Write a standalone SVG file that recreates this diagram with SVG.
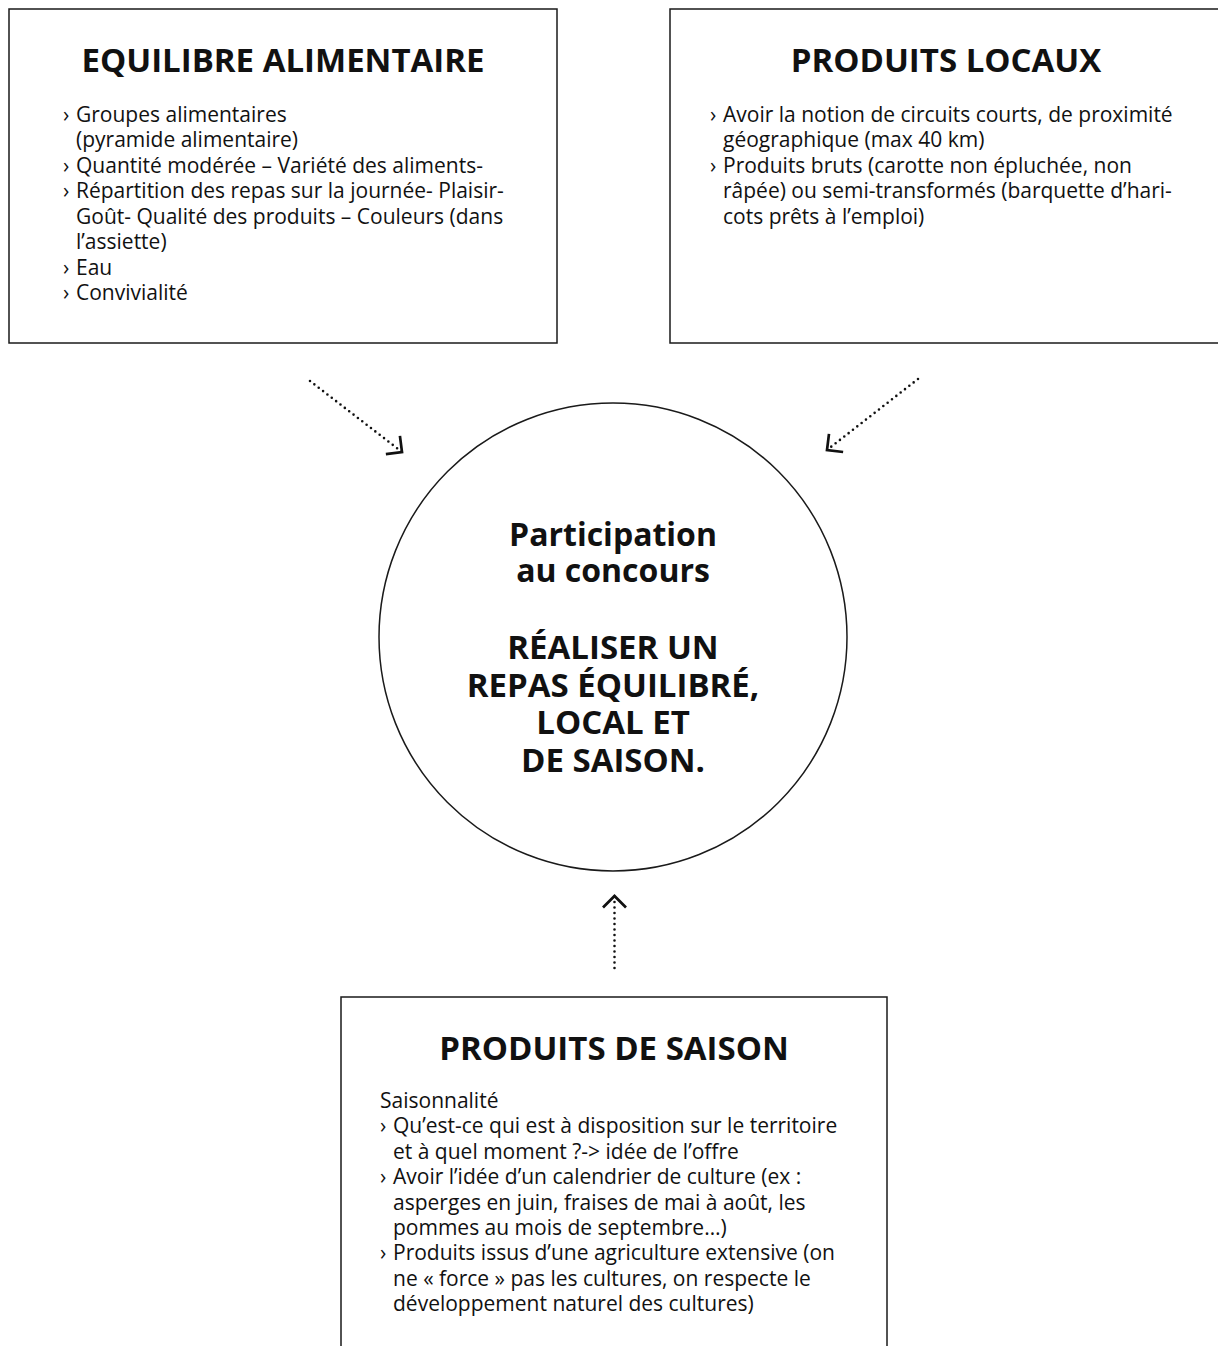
<svg xmlns="http://www.w3.org/2000/svg" width="1218" height="1346" viewBox="0 0 1218 1346">
<style>
  .box { fill: #fff; stroke: #1a1a1a; stroke-width: 1.5; }
  .ttl { font-family: "Open Sans", "Liberation Sans", sans-serif; font-weight: 700; font-size: 33px; fill: #111; text-anchor: middle; }
  .bd { font-family: "Open Sans", "Liberation Sans", sans-serif; font-size: 21px; fill: #111; }
  .ctr { font-family: "Open Sans", "Liberation Sans", sans-serif; font-weight: 700; font-size: 32px; fill: #111; text-anchor: middle; }
  .cap { font-size: 33px; }
  .conn { fill: none; stroke: #111; stroke-width: 2.6; stroke-linecap: round; stroke-dasharray: 0 5.5; }
</style>
<defs>
  <marker id="ah" markerUnits="userSpaceOnUse" markerWidth="34" markerHeight="34" viewBox="-17 -17 34 34" refX="0" refY="0" orient="auto" overflow="visible">
    <path d="M -11.5 -11.5 L 0 0 L -11.5 11.5" fill="none" stroke="#111" stroke-width="2.7" stroke-dasharray="none" stroke-linejoin="miter"/>
  </marker>
</defs>

<g id="connectors">
  <line class="conn" x1="310" y1="381" x2="402" y2="452" marker-end="url(#ah)"/>
  <line class="conn" x1="918" y1="379" x2="827" y2="450" marker-end="url(#ah)"/>
  <line class="conn" x1="614.5" y1="968" x2="614.5" y2="896" marker-end="url(#ah)"/>
</g>

<g id="equilibre">
  <rect class="box" x="9" y="9" width="548" height="334"/>
  <text class="ttl" x="283" y="72">EQUILIBRE ALIMENTAIRE</text>
  <text class="bd" y="121.5"><tspan x="63">›</tspan><tspan x="76">Groupes alimentaires</tspan></text>
  <text class="bd" x="76" y="147">(pyramide alimentaire)</text>
  <text class="bd" y="172.5"><tspan x="63">›</tspan><tspan x="76">Quantité modérée – Variété des aliments-</tspan></text>
  <text class="bd" y="198"><tspan x="63">›</tspan><tspan x="76">Répartition des repas sur la journée- Plaisir-</tspan></text>
  <text class="bd" x="76" y="223.5">Goût- Qualité des produits – Couleurs (dans</text>
  <text class="bd" x="76" y="249">l’assiette)</text>
  <text class="bd" y="274.5"><tspan x="63">›</tspan><tspan x="76">Eau</tspan></text>
  <text class="bd" y="300"><tspan x="63">›</tspan><tspan x="76">Convivialité</tspan></text>
</g>

<g id="locaux">
  <rect class="box" x="670" y="9" width="560" height="334"/>
  <text class="ttl" x="946" y="72">PRODUITS LOCAUX</text>
  <text class="bd" y="121.5"><tspan x="710">›</tspan><tspan x="723">Avoir la notion de circuits courts, de proximité</tspan></text>
  <text class="bd" x="723" y="147">géographique (max 40 km)</text>
  <text class="bd" y="172.5"><tspan x="710">›</tspan><tspan x="723">Produits bruts (carotte non épluchée, non</tspan></text>
  <text class="bd" x="723" y="198">râpée) ou semi-transformés (barquette d’hari-</text>
  <text class="bd" x="723" y="223.5">cots prêts à l’emploi)</text>
</g>

<g id="centre">
  <circle class="box" cx="613" cy="637" r="234"/>
  <text class="ctr" x="613" y="546">Participation</text>
  <text class="ctr" x="613" y="582">au concours</text>
  <text class="ctr cap" x="613" y="659">RÉALISER UN</text>
  <text class="ctr cap" x="613" y="697">REPAS ÉQUILIBRÉ,</text>
  <text class="ctr cap" x="613" y="734">LOCAL ET</text>
  <text class="ctr cap" x="613" y="772">DE SAISON.</text>
</g>

<g id="saison">
  <rect class="box" x="341" y="997" width="546" height="370"/>
  <text class="ttl" x="614" y="1060">PRODUITS DE SAISON</text>
  <text class="bd" x="380" y="1108">Saisonnalité</text>
  <text class="bd" y="1133.4"><tspan x="380">›</tspan><tspan x="393">Qu’est-ce qui est à disposition sur le territoire</tspan></text>
  <text class="bd" x="393" y="1158.8">et à quel moment ?-&gt; idée de l’offre</text>
  <text class="bd" y="1184.2"><tspan x="380">›</tspan><tspan x="393">Avoir l’idée d’un calendrier de culture (ex :</tspan></text>
  <text class="bd" x="393" y="1209.6">asperges en juin, fraises de mai à août, les</text>
  <text class="bd" x="393" y="1235">pommes au mois de septembre…)</text>
  <text class="bd" y="1260.4"><tspan x="380">›</tspan><tspan x="393">Produits issus d’une agriculture extensive (on</tspan></text>
  <text class="bd" x="393" y="1285.8">ne « force » pas les cultures, on respecte le</text>
  <text class="bd" x="393" y="1311.2">développement naturel des cultures)</text>
</g>
</svg>
